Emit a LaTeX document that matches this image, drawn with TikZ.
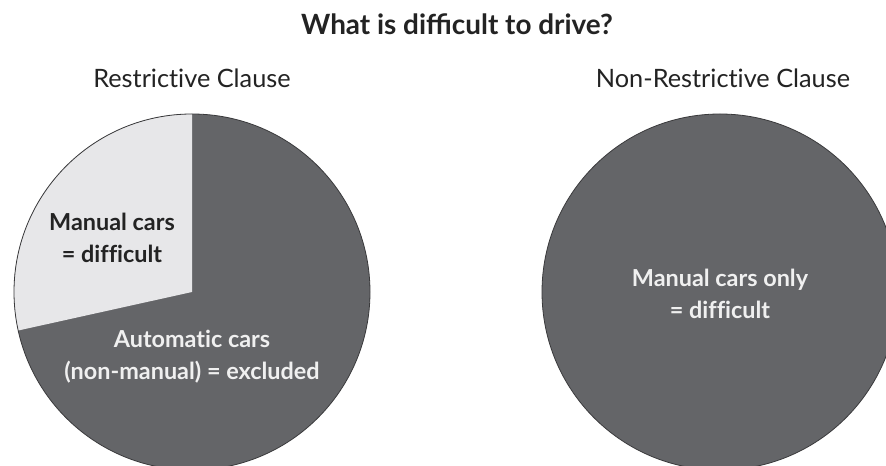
\documentclass[tikz,border=0pt]{standalone}
\usepackage{fontspec}
\setmainfont{Lato}
\newfontfamily\plainlato{Lato}[Ligatures=NoCommon]
\definecolor{piedark}{HTML}{646568}
\definecolor{pielight}{HTML}{E7E7E9}
\definecolor{rim}{HTML}{3A3A3C}
\definecolor{ink}{HTML}{232323}
\begin{document}
\begin{tikzpicture}[x=1bp,y=1bp,
  heading/.style={text=ink,font=\fontsize{28}{32}\selectfont\bfseries,inner sep=0pt},
  subheading/.style={text=ink,font=\plainlato\fontsize{25.4}{30}\selectfont,inner sep=0pt},
  sliceLabel/.style={align=center,inner sep=0pt,font=\plainlato\fontsize{23.5}{32}\selectfont\bfseries},
  onDark/.style={sliceLabel,text=white!94!black},
  onLight/.style={sliceLabel,text=ink},
  pieRim/.style={draw=rim,line width=0.8bp}]
\useasboundingbox (0,0) rectangle (886,466);
\clip (0,0) rectangle (886,466);
\fill[white] (0,0) rectangle (886,466);

% headings
\node[heading] (title) at (457,442) {What is difficult to drive?};
\node[subheading] (restr) at (192,388) {Restrictive Clause};
\node[subheading] (nonrestr) at (723,388) {Non-Restrictive Clause};

% left pie: restrictive clause
\coordinate (lc) at (192,174);
\fill[piedark] (lc) circle (178);
\fill[pielight] (lc) -- ++(90:178) arc (90:192.5:178) -- cycle;
\draw[pieRim] (lc) circle (178);
\node[onLight] (manual) at (112,228) {Manual cars\\= difficult};
\node[onDark] (auto) at (192,109) {Automatic cars\\(non-manual) = excluded};

% right pie: non-restrictive clause
\coordinate (rc) at (720,174);
\fill[piedark] (rc) circle (178);
\draw[pieRim] (rc) circle (178);
\node[onDark] (only) at (720,172) {Manual cars only\\= difficult};
\end{tikzpicture}
\end{document}
